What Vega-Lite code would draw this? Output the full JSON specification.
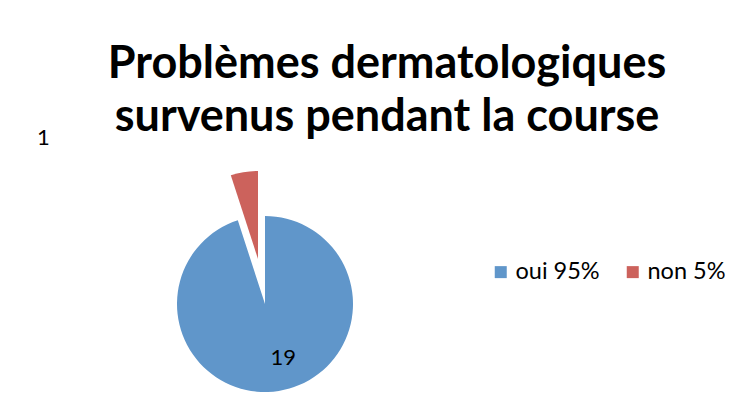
{
  "$schema": "https://vega.github.io/schema/vega-lite/v6.json",
  "width": 516,
  "height": 314,
  "autosize": {"type": "pad"},
  "padding": {"left": 7, "top": 42, "right": 0, "bottom": 0},
  "background": "white",
  "config": {"view": {"stroke": null}},
  "title": {
    "text": ["Problèmes dermatologiques", "survenus pendant la course"],
    "font": "Lato",
    "fontSize": 45,
    "fontWeight": "bold",
    "lineHeight": 53,
    "color": "black",
    "anchor": "middle",
    "frame": "group",
    "dx": 122,
    "offset": -13
  },
  "data": {
    "values": [
      {"reponse": "oui", "legende": "oui 95%", "nombre": 19},
      {"reponse": "non", "legende": "non 5%", "nombre": 1}
    ]
  },
  "transform": [
    {"stack": "nombre", "groupby": [], "sort": [{"field": "reponse", "order": "descending"}], "as": ["t0", "t1"]},
    {"calculate": "(datum.t0 + datum.t1) / 2", "as": "tm"}
  ],
  "layer": [
    {
      "transform": [{"filter": "datum.reponse === 'oui'"}],
      "mark": {"type": "arc", "outerRadius": 88},
      "encoding": {
        "theta": {"field": "t0", "type": "quantitative", "stack": null, "scale": {"domain": [0, 20]}},
        "theta2": {"field": "t1"},
        "color": {
          "field": "legende", "type": "nominal",
          "scale": {"domain": ["oui 95%", "non 5%"], "range": ["#6096CA", "#CC625C"]},
          "legend": {
            "orient": "none", "legendX": 482, "legendY": 113, "direction": "horizontal",
            "title": null, "symbolType": "square", "symbolSize": 144, "symbolStrokeWidth": 0,
            "labelFont": "Lato", "labelFontSize": 23.5, "labelColor": "black", "labelOffset": 3,
            "columnPadding": 21
          }
        }
      }
    },
    {
      "transform": [{"filter": "datum.reponse === 'non'"}],
      "mark": {"type": "arc", "outerRadius": 88, "xOffset": -7, "yOffset": -45},
      "encoding": {
        "theta": {"field": "t0", "type": "quantitative", "stack": null},
        "theta2": {"field": "t1"},
        "color": {"field": "legende", "type": "nominal"}
      }
    },
    {
      "transform": [{"filter": "datum.reponse === 'oui'"}],
      "mark": {"type": "text", "radius": 53, "font": "Lato", "fontSize": 22, "dx": 10, "dy": 2, "color": "black"},
      "encoding": {
        "theta": {"field": "tm", "type": "quantitative", "stack": null},
        "text": {"field": "nombre", "type": "quantitative"}
      }
    },
    {
      "transform": [{"filter": "datum.reponse === 'non'"}],
      "mark": {"type": "text", "radius": 170, "font": "Lato", "fontSize": 22, "dx": -195, "dy": 2, "color": "black"},
      "encoding": {
        "theta": {"field": "tm", "type": "quantitative", "stack": null},
        "text": {"field": "nombre", "type": "quantitative"}
      }
    }
  ]
}
